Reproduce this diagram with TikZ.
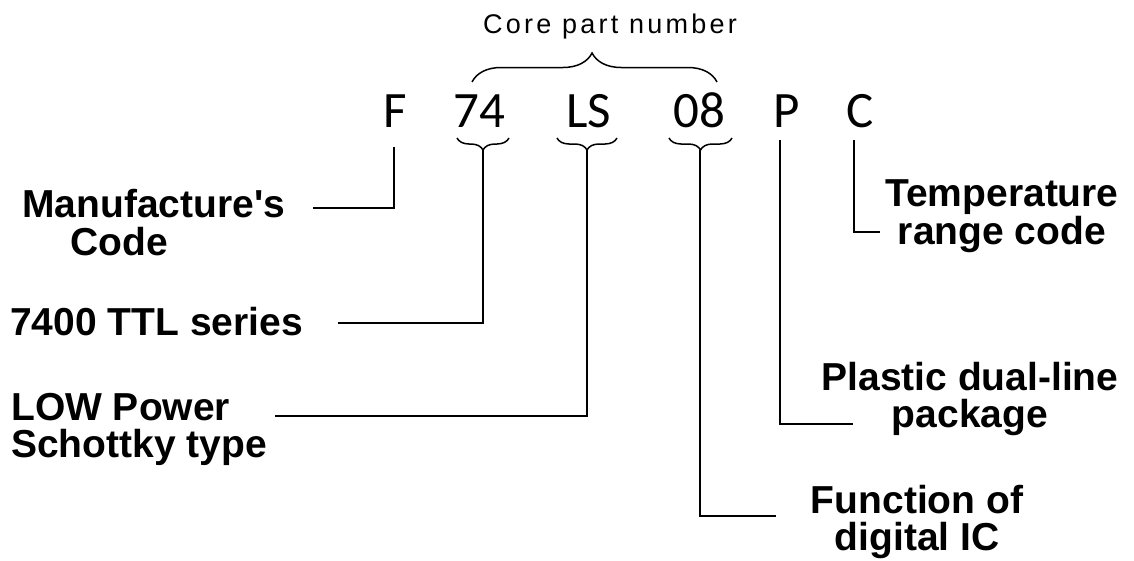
\documentclass[tikz,border=0pt]{standalone}
\usepackage{fontspec}
\setmainfont{Liberation Sans}
\newfontfamily\partfont{Carlito}
\newfontfamily\corefont[LetterSpace=12]{Liberation Sans}
\usetikzlibrary{decorations.pathreplacing}

\begin{document}
\begin{tikzpicture}[
  x=1pt, y=-1pt,
  part/.style={anchor=base, inner sep=0pt, font=\partfont\fontsize{51}{51}\selectfont},
  desc/.style={inner sep=0pt, font=\bfseries\fontsize{39}{#1}\selectfont},
  desc/.default=38,
  lead/.style={line width=1.8pt},
  brc/.style={line width=1.5pt, decorate, decoration={brace, amplitude=#1}}
]
  \useasboundingbox (0,0) rectangle (1134,560);

  % part number
  \node[anchor=base, inner sep=0pt, font=\corefont\fontsize{27}{27}\selectfont] (core) at (610,33) {Core part number};
  \node[part] (pF)  at (395,127)   {F};
  \node[part] (p74) at (479,127)   {74};
  \node[part] (pLS) at (588.5,127) {LS};
  \node[part] (p08) at (699,127)   {08};
  \node[part] (pP)  at (786.5,127) {P};
  \node[part] (pC)  at (860,127)   {C};

  % braces
  \draw[brc=29, decoration={aspect=0.49}] (472,82) -- (717,82);
  \draw[brc=12] (509,138) -- (457,138);
  \draw[brc=12] (617,138) -- (557,138);
  \draw[brc=12] (732,138) -- (669,138);

  % descriptions (base = last line)
  \node[desc, anchor=base west, align=left] (dF) at (22,255) {Manufacture\textquotesingle s\\\hspace*{48pt}Code};
  \node[desc, anchor=base west] (d74) at (10,335) {7400 TTL series};
  \node[desc=37, anchor=base west, align=left] (dLS) at (11,457) {LOW Power\\Schottky type};
  \node[desc=37, anchor=base, align=center] (d08) at (917,550) {Function of\\digital IC};
  \node[desc=37, anchor=base, align=center] (dP) at (970,427) {Plastic dual-line\\package};
  \node[desc=34, anchor=base, align=center] (dC) at (1002,244) {Temperature\\range code};

  % leader lines
  \coordinate (tF)  at (394,147); \coordinate (eF)  at (313,208);
  \coordinate (t74) at (483,150); \coordinate (e74) at (338,323);
  \coordinate (tLS) at (587,150); \coordinate (eLS) at (275,416);
  \coordinate (t08) at (700,150); \coordinate (e08) at (776,516);
  \coordinate (tP)  at (780,140); \coordinate (eP)  at (853,424);
  \coordinate (tC)  at (854,140); \coordinate (eC)  at (880,232);
  \foreach \k in {F,74,LS,08,P,C}
    \draw[lead] (t\k) |- (e\k);
\end{tikzpicture}
\end{document}
